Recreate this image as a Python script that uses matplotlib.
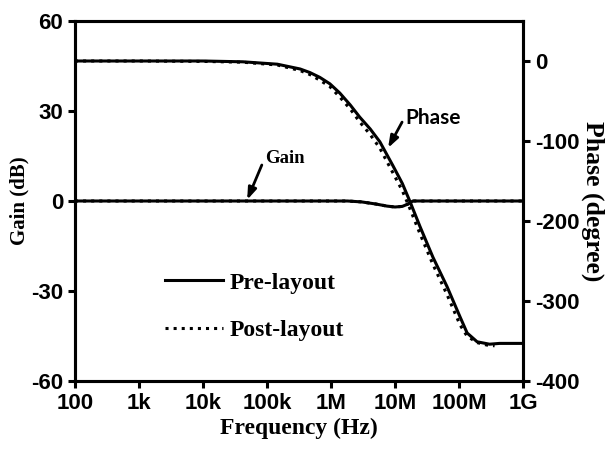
import matplotlib
matplotlib.use("Agg")
import matplotlib.pyplot as plt
from matplotlib.lines import Line2D

plt.rcParams["axes.unicode_minus"] = False

# Frequency sweep and phase response (degrees)
freq_pre = [1e2, 1e3, 1e4, 4.2e4, 1.45e5, 3.3e5, 4.7e5, 6.7e5, 9.6e5, 1.37e6, 2e6,
            2.8e6, 4.1e6, 5.8e6, 9.3e6, 1.3e7, 1.7e7, 2.46e7, 3.9e7, 6.5e7, 1.04e8,
            1.34e8, 1.92e8, 3e8, 4.3e8, 1e9]
phase_pre = [0, 0, 0, -1, -4, -10, -14.5, -20.5, -28.5, -40, -55,
             -70, -85, -101, -131, -153, -175, -207, -245, -282, -320,
             -340, -351, -354, -353, -353]

freq_post = [1e2, 1e3, 1e4, 4.2e4, 1.45e5, 3.3e5, 4.7e5, 6.7e5, 9.6e5, 1.37e6, 2e6,
             2.8e6, 4.1e6, 5.8e6, 9.3e6, 1.3e7, 1.7e7, 2.46e7, 3.9e7, 6.5e7, 1.04e8,
             1.34e8, 1.92e8, 2.7e8, 3.6e8]
phase_post = [0, 0, -0.5, -1.5, -5, -12, -17, -24, -32, -45, -60,
              -76, -92, -109, -140, -162, -184, -216, -254, -292, -330,
              -344, -352, -355, -356]

# Gain response (dB)
freq_gain = [1e2, 1e3, 1e4, 1e5, 1e6, 1.8e6, 3e6, 5e6, 7.5e6, 1e7, 1.3e7, 1.6e7,
             1.9e7, 1e8, 1e9]
gain = [0, 0, 0, 0, 0, 0, -0.3, -1.0, -1.7, -2.0, -1.8, -1.0,
        0, 0, 0]

xticks = [1e2, 1e3, 1e4, 1e5, 1e6, 1e7, 1e8, 1e9]
xticklabels = ["100", "1k", "10k", "100k", "1M", "10M", "100M", "1G"]
gain_ticks = [-60, -30, 0, 30, 60]
phase_ticks = [-400, -300, -200, -100, 0]

W, H = 613, 454
fig = plt.figure(figsize=(W / 100, H / 100), dpi=100)
ax = fig.add_axes([75 / W, 1 - 381 / H, (523 - 75) / W, (381 - 21) / H])
ax2 = ax.twinx()

LW = 2.2
sans = "Liberation Sans"
serif = "Liberation Serif"

# Gain trace on the left axis
ax.plot(freq_gain, gain, color="black", lw=LW, solid_capstyle="butt")
ax.plot(freq_gain, gain, color="black", lw=LW, ls=":")

# Phase traces on the right axis
ax2.plot(freq_pre, phase_pre, color="black", lw=LW)
ax2.plot(freq_post, phase_post, color="black", lw=LW, ls=":")

ax.set_xscale("log")
ax.set_xlim(1e2, 1e9)
ax.set_ylim(-60, 60)
ax2.set_ylim(-400, 50)

ax.set_xticks(xticks)
ax.set_xticklabels(xticklabels)
ax.xaxis.set_minor_locator(matplotlib.ticker.NullLocator())
ax.set_yticks(gain_ticks)
ax2.set_yticks(phase_ticks)

for a in (ax, ax2):
    for sp in a.spines.values():
        sp.set_linewidth(LW)
    a.tick_params(axis="both", which="major", direction="out", length=5,
                  width=LW, pad=3.5, labelsize=16)
    for lab in a.get_xticklabels() + a.get_yticklabels():
        lab.set_fontfamily(sans)
        lab.set_fontweight("bold")

ax.set_xlabel("Frequency (Hz)", fontfamily=serif, fontweight="bold",
              fontsize=17, labelpad=3)
ax.set_ylabel("Gain (dB)", fontfamily=serif, fontweight="bold",
              fontsize=15, labelpad=1)
ax2.set_ylabel("Phase (degree)", fontfamily=serif, fontweight="bold",
               fontsize=18.5, rotation=270, labelpad=18)

# Curve labels with arrows
arrow = dict(arrowstyle="-|>,head_length=0.7,head_width=0.25", lw=2,
             color="black", shrinkA=0, shrinkB=0)
ax.text(9.3e4, 14.3, "Gain", fontfamily=serif, fontweight="bold", fontsize=13.5,
        ha="left", va="center")
ax.annotate("", xy=(4.9e4, 0.4), xytext=(8.3e4, 12), arrowprops=arrow)

ax.text(1.45e7, 27.7, "Phase", fontfamily="Lato", fontweight="bold", fontsize=15,
        ha="left", va="center")
ax.annotate("", xy=(7.8e6, 17.7), xytext=(1.29e7, 26.3), arrowprops=arrow)

handles = [Line2D([], [], color="black", lw=LW),
           Line2D([], [], color="black", lw=LW, ls=":")]
leg = fig.legend(handles, ["Pre-layout", "Post-layout"], loc="upper left",
                 bbox_to_anchor=(165 / W, 1 - 272 / H), frameon=False,
                 borderpad=0, handlelength=2.45, handletextpad=0.3,
                 labelspacing=1.1, borderaxespad=0,
                 prop=dict(family=serif, weight="bold", size=17))

fig.savefig("out.png", dpi=100)
